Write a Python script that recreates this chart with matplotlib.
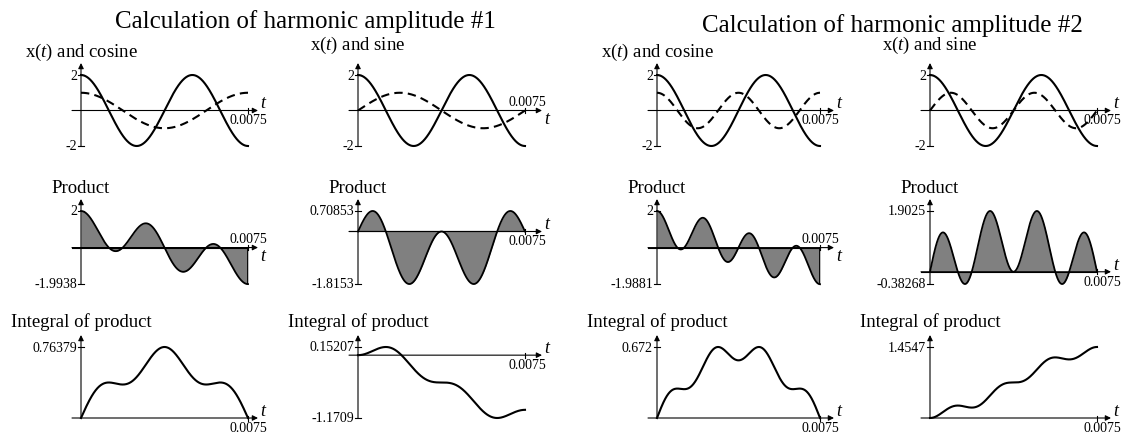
import numpy as np
import matplotlib
matplotlib.use('Agg')
import matplotlib.pyplot as plt

plt.rcParams['font.family'] = 'Liberation Serif'
plt.rcParams['mathtext.fontset'] = 'custom'
plt.rcParams['mathtext.rm'] = 'Liberation Serif'
plt.rcParams['mathtext.it'] = 'Liberation Serif:italic'

W, H = 1135, 439

# signal and analysis window
period = 0.0075
signal_amp = 2.0
signal_freq = 200.0
harmonics = [1, 2]
basis_names = ['cosine', 'sine']

# y-range end values per panel, order: #1 cos, #1 sin, #2 cos, #2 sin
signal_top = [2, 2, 2, 2]
signal_bottom = [-2, -2, -2, -2]
product_top = [2, 0.70853, 2, 1.9025]
product_bottom = [-1.9938, -1.8153, -1.9881, -0.38268]
integral_top = [0.76379, 0.15207, 0.672, 1.4547]
integral_bottom = [0, -1.1709, 0, 0]

# layout in pixels
col_x0 = [81, 358, 657, 930]
col_x1 = [248, 525, 820, 1097]
row_top = [76, 212, 348]
row_bot = [147, 285, 419]
label_base = [[57, 50, 57, 50], [193] * 4, [327] * 4]
tlabel_above = [[False, True, False, False],
                [True, False, True, False],
                [False, False, False, False]]
tlabel_shift = [0, 2, 0, 5]
arrow_len = [10, 17, 14, 14]

fig = plt.figure(figsize=(W / 100, H / 100), dpi=100)

t = np.linspace(0, period, 800)
signal = signal_amp * np.cos(2 * np.pi * signal_freq * t)


def fmt(v):
    return '{:g}'.format(v)


def panel(k, row, top, bot, label):
    x0, x1 = col_x0[k], col_x1[k]
    yt, yb = row_top[row], row_bot[row]
    ax = fig.add_axes([x0 / W, 1 - yb / H, (x1 - x0) / W, (yb - yt) / H])
    ax.set_xlim(0, period)
    ax.set_ylim(bot, top)
    ax.axis('off')
    sx = period / (x1 - x0)
    sy = (top - bot) / (yb - yt)
    ap = dict(arrowstyle='-|>', lw=0.8, color='k', mutation_scale=8,
              shrinkA=0, shrinkB=0)
    tip = period + arrow_len[k] * sx
    # axes with arrows
    ax.annotate('', xy=(tip, 0), xytext=(-9 * sx, 0), arrowprops=ap,
                annotation_clip=False)
    ax.annotate('', xy=(0, top + 12 * sy), xytext=(0, bot), arrowprops=ap,
                annotation_clip=False)
    # y ticks
    for v in (top, bot):
        if v == 0:
            continue
        ax.plot([-3 * sx, 3 * sx], [v, v], color='k', lw=0.8, clip_on=False)
        ax.text(-4 * sx, v, fmt(v), ha='right', va='center', fontsize=10)
    ax.plot([period, period], [-2.5 * sy, 2.5 * sy], color='k', lw=0.8,
            clip_on=False)
    above = tlabel_above[row][k]
    xl = period + tlabel_shift[k] * sx
    ax.text(xl, 3 * sy if above else -3 * sy, '0.0075', ha='center',
            va='bottom' if above else 'top', fontsize=10)
    # axis name sits on the side away from the end label
    ax.text(tip + 2 * sx, 1 * sy if above else -1 * sy, '$t$', ha='left',
            va='top' if above else 'bottom', fontsize=13)
    fig.text(x0 / W, 1 - label_base[row][k] / H, label, ha='center',
             va='baseline', fontsize=13.5)
    return ax


for g, h in enumerate(harmonics):
    for c, name in enumerate(basis_names):
        k = 2 * g + c
        phase = 2 * np.pi * h * t / period
        basis = np.cos(phase) if name == 'cosine' else np.sin(phase)
        product = signal * basis
        integral = np.concatenate(([0], np.cumsum(
            (product[1:] + product[:-1]) / 2 * np.diff(t)))) * 2 / period

        ax = panel(k, 0, signal_top[k], signal_bottom[k],
                   'x($t$) and ' + name)
        ax.plot(t, signal, color='k', lw=1.5, clip_on=False)
        ax.plot(t, basis, color='k', lw=1.5, ls=(0, (4, 2.5)), clip_on=False)

        ax = panel(k, 1, product_top[k], product_bottom[k], 'Product')
        ax.fill_between(t, product, 0, color='#808080', lw=0)
        ax.plot(t, product, color='k', lw=1.3, clip_on=False)
        ax.plot([t[-1], t[-1]], [0, product[-1]], color='k', lw=1.3)
        ax.plot([-9 * period / (col_x1[k] - col_x0[k]), period], [0, 0],
                color='k', lw=0.8, clip_on=False)

        ax = panel(k, 2, integral_top[k], integral_bottom[k],
                   'Integral of product')
        ax.plot(t, integral, color='k', lw=1.5, clip_on=False)

fig.text(305 / W, 1 - 28 / H, 'Calculation of harmonic amplitude #1',
         ha='center', va='baseline', fontsize=18)
fig.text(892 / W, 1 - 32 / H, 'Calculation of harmonic amplitude #2',
         ha='center', va='baseline', fontsize=18)

fig.savefig('out.png', dpi=100)
